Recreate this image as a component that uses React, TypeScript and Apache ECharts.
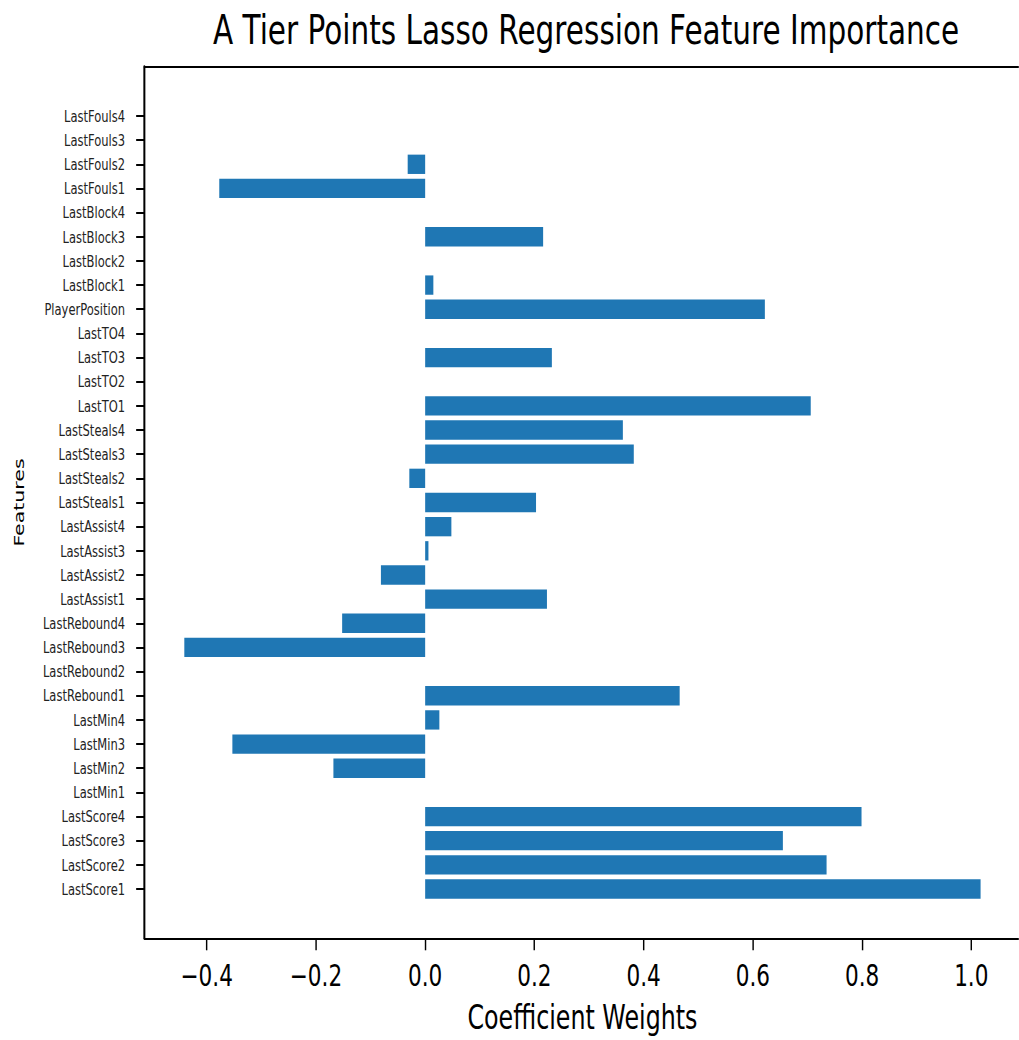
import React, { useEffect, useRef } from "react";
import * as echarts from "echarts";

// Lasso coefficients per feature, listed bottom-to-top as drawn on the y axis
const features = [
  "LastScore1", "LastScore2", "LastScore3", "LastScore4",
  "LastMin1", "LastMin2", "LastMin3", "LastMin4",
  "LastRebound1", "LastRebound2", "LastRebound3", "LastRebound4",
  "LastAssist1", "LastAssist2", "LastAssist3", "LastAssist4",
  "LastSteals1", "LastSteals2", "LastSteals3", "LastSteals4",
  "LastTO1", "LastTO2", "LastTO3", "LastTO4",
  "PlayerPosition",
  "LastBlock1", "LastBlock2", "LastBlock3", "LastBlock4",
  "LastFouls1", "LastFouls2", "LastFouls3", "LastFouls4",
];

const coefficients = [
  1.017, 0.735, 0.655, 0.799,
  0, -0.168, -0.353, 0.026,
  0.466, 0, -0.441, -0.152,
  0.223, -0.081, 0.006, 0.048,
  0.203, -0.029, 0.382, 0.362,
  0.706, 0, 0.232, 0,
  0.622,
  0.015, 0, 0.216, 0,
  -0.377, -0.032, 0, 0,
];

const xTicks = [-0.4, -0.2, 0.0, 0.2, 0.4, 0.6, 0.8, 1.0];

const chartTitle = "A Tier Points Lasso Regression Feature Importance";
const xName = "Coefficient Weights";
const yName = "Features";

// The figure is laid out wide and then squeezed horizontally
const SCALE_X = 0.72;
const VIEW_W = 1019;
const VIEW_H = 1040;
const INNER_W = VIEW_W / SCALE_X;

const BAR_COLOR = "#1f77b4";
const FONT = "DejaVu Sans";

export default function App() {
  const ref = useRef<HTMLDivElement>(null);

  useEffect(() => {
    if (!ref.current) return;
    const chart = echarts.init(ref.current, undefined, { renderer: "svg" });

    // axis limits with a 5% margin around the data, like matplotlib autoscale
    const dMin = Math.min(0, ...coefficients);
    const dMax = Math.max(0, ...coefficients);
    const xSpan = dMax - dMin;
    const xMin = dMin - 0.05 * xSpan;
    const xMax = dMax + 0.05 * xSpan;
    const yLo = -0.4;
    const yHi = features.length - 1 + 0.4;
    const ySpan = yHi - yLo;
    const yMin = yLo - 0.05 * ySpan;
    const yMax = yHi + 0.05 * ySpan;

    const indices = features.map((_, i) => i);
    const data = coefficients.map((v, i) => [v, i]);

    const gridLeft = 144.5 / SCALE_X;
    const gridRight = 1020.4 / SCALE_X;

    const spine = { show: true, onZero: false, lineStyle: { color: "#000", width: 2 } };

    chart.setOption({
      animation: false,
      backgroundColor: "#ffffff",
      title: {
        text: chartTitle,
        left: (gridLeft + gridRight) / 2,
        top: 4,
        textAlign: "center",
        textStyle: {
          fontFamily: FONT,
          fontSize: 41,
          fontWeight: "normal",
          color: "#000",
        },
      },
      grid: {
        left: gridLeft,
        width: gridRight - gridLeft,
        top: 66.7,
        height: 871.6,
        show: false,
        containLabel: false,
        outerBoundsMode: "none",
      },
      xAxis: [
        {
          type: "value",
          position: "bottom",
          min: xMin,
          max: xMax,
          name: xName,
          nameLocation: "middle",
          nameGap: 63,
          nameTextStyle: { fontFamily: FONT, fontSize: 33, color: "#000" },
          axisLine: spine,
          axisTick: {
            show: true,
            length: 12,
            customValues: xTicks,
            lineStyle: { color: "#000", width: 2 },
          },
          axisLabel: {
            customValues: xTicks,
            margin: 22,
            fontFamily: FONT,
            fontSize: 30,
            color: "#000",
            formatter: (v: number) => v.toFixed(1).replace("-", "\u2212"),
          },
          splitLine: { show: false },
        },
        {
          // top spine of the axes frame
          type: "value",
          position: "top",
          min: xMin,
          max: xMax,
          axisLine: spine,
          axisTick: { show: false },
          axisLabel: { show: false },
          splitLine: { show: false },
        },
      ],
      yAxis: {
        type: "value",
        min: yMin,
        max: yMax,
        name: yName,
        nameLocation: "middle",
        nameGap: 164,
        nameTextStyle: { fontFamily: FONT, fontSize: 20.5, color: "#000" },
        axisLine: { show: true, onZero: false, lineStyle: { color: "#000", width: 2.8 } },
        axisTick: {
          show: true,
          length: 11.6,
          customValues: indices,
          lineStyle: { color: "#000", width: 2 },
        },
        axisLabel: {
          customValues: indices,
          margin: 27,
          fontFamily: FONT,
          fontSize: 16,
          color: "#222",
          formatter: (v: number) => features[Math.round(v)] ?? "",
        },
        splitLine: { show: false },
      },
      series: [
        {
          type: "custom",
          xAxisIndex: 0,
          yAxisIndex: 0,
          encode: { x: 0, y: 1 },
          data,
          renderItem: (params: any, api: any) => {
            const v = api.value(0);
            const i = api.value(1);
            const base = api.coord([0, i]);
            const end = api.coord([v, i]);
            const h = api.size([0, 0.8])[1];
            return {
              type: "rect",
              shape: {
                x: Math.min(base[0], end[0]),
                y: base[1] - h / 2,
                width: Math.abs(end[0] - base[0]),
                height: h,
              },
              style: { fill: BAR_COLOR },
            };
          },
        },
      ],
    });

    return () => chart.dispose();
  }, []);

  return (
    <div
      style={{
        position: "fixed",
        left: 0,
        top: 0,
        width: VIEW_W,
        height: VIEW_H,
        overflow: "hidden",
        background: "#fff",
      }}
    >
      <div
        ref={ref}
        style={{
          width: INNER_W,
          height: VIEW_H,
          transform: `scaleX(${SCALE_X})`,
          transformOrigin: "0 0",
        }}
      />
    </div>
  );
}
